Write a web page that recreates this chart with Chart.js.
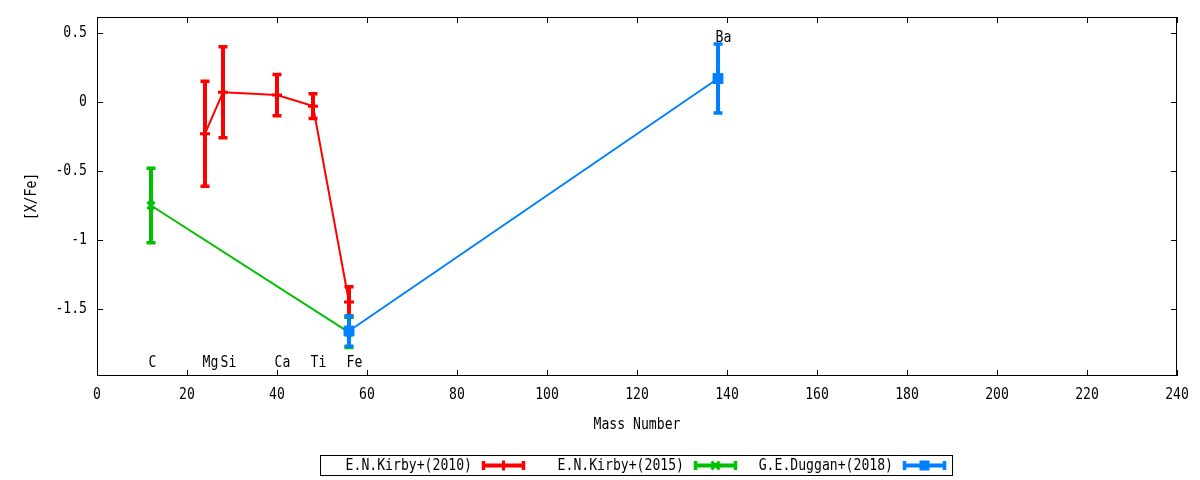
<!DOCTYPE html>
<html>
<head>
<meta charset="utf-8">
<script src="https://cdn.jsdelivr.net/npm/chart.js@4.4.1/dist/chart.umd.min.js"></script>
<style>
  html, body { margin: 0; padding: 0; background: #fff; }
  #wrap { width: 1200px; height: 480px; }
</style>
</head>
<body>
<div id="wrap"><canvas id="chart"></canvas></div>
<script>
// [X/Fe] abundances vs. mass number
const kirby2010Mass = [24, 28, 40, 48, 56];
const kirby2010Value = [-0.23, 0.07, 0.05, -0.03, -1.45];
const kirby2010Error = [0.38, 0.33, 0.15, 0.09, 0.11];

const kirby2015Mass = [12, 56];
const kirby2015Value = [-0.75, -1.67];
const kirby2015Error = [0.27, 0.11];

const duggan2018Mass = [56, 138];
const duggan2018Value = [-1.66, 0.17];
const duggan2018Error = [0.11, 0.25];

const elementNames = ['C', 'Mg', 'Si', 'Ca', 'Ti', 'Fe', 'Ba'];
const elementMass = [12, 24, 28, 40, 48, 56, 138];
const elementLabelY = [-1.89, -1.89, -1.89, -1.89, -1.89, -1.89, 0.467];

const xTicks = [0, 20, 40, 60, 80, 100, 120, 140, 160, 180, 200, 220, 240];
const yTicks = [-1.5, -1, -0.5, 0, 0.5];

const FONT = '16px "DejaVu Sans Mono", monospace';
const SQUEEZE = 0.82;

function text(ctx, str, x, y, align) {
  ctx.save();
  ctx.translate(x, y);
  ctx.scale(SQUEEZE, 1);
  ctx.font = FONT;
  ctx.fillStyle = '#000';
  ctx.textAlign = align;
  ctx.textBaseline = 'middle';
  ctx.fillText(str, 0, 0);
  ctx.restore();
}

function points(mass, values) {
  return mass.map((m, i) => ({ x: m, y: values[i] }));
}

function drawMarker(ctx, style, x, y, color) {
  ctx.save();
  ctx.strokeStyle = color;
  ctx.fillStyle = color;
  ctx.lineWidth = 3;
  if (style === 'cross') {
    ctx.beginPath();
    ctx.moveTo(x - 5, y); ctx.lineTo(x + 5, y);
    ctx.moveTo(x, y - 5); ctx.lineTo(x, y + 5);
    ctx.stroke();
  } else if (style === 'crossRot') {
    ctx.beginPath();
    ctx.moveTo(x - 4, y - 4); ctx.lineTo(x + 4, y + 4);
    ctx.moveTo(x + 4, y - 4); ctx.lineTo(x - 4, y + 4);
    ctx.stroke();
  } else {
    ctx.fillRect(x - 5, y - 5, 10, 10);
  }
  ctx.restore();
}

const gnuplotLook = {
  id: 'gnuplotLook',
  afterDatasetDraw(chart, args) {
    const ds = chart.data.datasets[args.index];
    const y = chart.scales.y;
    const ctx = chart.ctx;
    ctx.save();
    ctx.strokeStyle = ds.borderColor;
    args.meta.data.forEach((pt, i) => {
      const v = ds.data[i].y;
      const e = ds.errors[i];
      const top = y.getPixelForValue(v + e);
      const bot = y.getPixelForValue(v - e);
      ctx.lineWidth = 4;
      ctx.beginPath();
      ctx.moveTo(pt.x, top); ctx.lineTo(pt.x, bot);
      ctx.stroke();
      ctx.lineWidth = 3.5;
      ctx.beginPath();
      ctx.moveTo(pt.x - 4.5, top); ctx.lineTo(pt.x + 4.5, top);
      ctx.moveTo(pt.x - 4.5, bot); ctx.lineTo(pt.x + 4.5, bot);
      ctx.stroke();
    });
    ctx.restore();
  },
  afterDraw(chart) {
    const ctx = chart.ctx;
    const a = chart.chartArea;
    const xs = chart.scales.x;
    const ys = chart.scales.y;

    // frame
    ctx.save();
    ctx.strokeStyle = '#000';
    ctx.lineWidth = 1;
    ctx.strokeRect(a.left + 0.5, a.top + 0.5, a.right - a.left - 1, a.bottom - a.top - 1);

    // inward ticks, mirrored
    ctx.beginPath();
    xs.ticks.forEach(t => {
      const px = Math.round(xs.getPixelForValue(t.value)) + 0.5;
      ctx.moveTo(px, a.bottom); ctx.lineTo(px, a.bottom - 6);
      ctx.moveTo(px, a.top); ctx.lineTo(px, a.top + 6);
    });
    ys.ticks.forEach(t => {
      const py = Math.round(ys.getPixelForValue(t.value)) + 0.5;
      ctx.moveTo(a.left, py); ctx.lineTo(a.left + 6, py);
      ctx.moveTo(a.right, py); ctx.lineTo(a.right - 6, py);
    });
    ctx.stroke();
    ctx.restore();

    xs.ticks.forEach(t => text(ctx, String(t.value), xs.getPixelForValue(t.value), a.bottom + 19, 'center'));
    ys.ticks.forEach(t => text(ctx, String(t.value), a.left - 10, ys.getPixelForValue(t.value), 'right'));

    text(ctx, 'Mass Number', (a.left + a.right) / 2, 425, 'center');
    ctx.save();
    ctx.translate(32, (a.top + a.bottom) / 2);
    ctx.rotate(-Math.PI / 2);
    text(ctx, '[X/Fe]', 0, 0, 'center');
    ctx.restore();

    elementNames.forEach((n, i) => {
      text(ctx, n, xs.getPixelForValue(elementMass[i]) - 2.5, ys.getPixelForValue(elementLabelY[i]), 'left');
    });

    // legend
    ctx.save();
    ctx.strokeStyle = '#000';
    ctx.lineWidth = 1;
    ctx.strokeRect(320.5, 455.5, 632, 20);
    ctx.restore();
    const ly = 465.5;
    const textEnds = [472, 684, 893];
    chart.data.datasets.forEach((ds, i) => {
      text(ctx, ds.label, textEnds[i], ly, 'right');
      const x1 = textEnds[i] + 10;
      const x2 = x1 + 43;
      ctx.save();
      ctx.strokeStyle = ds.borderColor;
      ctx.lineWidth = 4;
      ctx.beginPath();
      ctx.moveTo(x1, ly); ctx.lineTo(x2, ly);
      ctx.stroke();
      ctx.lineWidth = 3.5;
      ctx.beginPath();
      ctx.moveTo(x1 + 1.5, ly - 4.5); ctx.lineTo(x1 + 1.5, ly + 4.5);
      ctx.moveTo(x2 - 1.5, ly - 4.5); ctx.lineTo(x2 - 1.5, ly + 4.5);
      ctx.stroke();
      ctx.restore();
      drawMarker(ctx, ds.pointStyle, (x1 + x2) / 2, ly, ds.borderColor);
    });
  }
};

new Chart(document.getElementById('chart').getContext('2d'), {
  type: 'line',
  data: {
    datasets: [
      {
        label: 'E.N.Kirby+(2010)',
        data: points(kirby2010Mass, kirby2010Value),
        errors: kirby2010Error,
        borderColor: '#ff0000',
        backgroundColor: '#ff0000',
        borderWidth: 2,
        pointStyle: 'cross',
        pointRadius: 5,
        pointBorderWidth: 3,
        order: 3,
      },
      {
        label: 'E.N.Kirby+(2015)',
        data: points(kirby2015Mass, kirby2015Value),
        errors: kirby2015Error,
        borderColor: '#00c000',
        backgroundColor: '#00c000',
        borderWidth: 2,
        pointStyle: 'crossRot',
        pointRadius: 5,
        pointBorderWidth: 3,
        order: 2,
      },
      {
        label: 'G.E.Duggan+(2018)',
        data: points(duggan2018Mass, duggan2018Value),
        errors: duggan2018Error,
        borderColor: '#0080ff',
        backgroundColor: '#0080ff',
        borderWidth: 2,
        pointStyle: 'rect',
        pointRadius: 7,
        pointBorderWidth: 1,
        order: 1,
      },
    ],
  },
  options: {
    responsive: true,
    maintainAspectRatio: false,
    animation: false,
    events: [],
    layout: { padding: { top: 17, right: 23, left: 0, bottom: 0 } },
    plugins: {
      legend: { display: false },
      tooltip: { enabled: false },
    },
    elements: { line: { tension: 0 } },
    scales: {
      x: {
        type: 'linear',
        min: 0,
        max: 240,
        afterBuildTicks: s => { s.ticks = xTicks.map(v => ({ value: v })); },
        afterFit: s => { s.height = 104; },
        grid: { display: false },
        border: { display: false },
        ticks: { display: false },
      },
      y: {
        type: 'linear',
        min: -1.986,
        max: 0.616,
        afterBuildTicks: s => { s.ticks = yTicks.map(v => ({ value: v })); },
        afterFit: s => { s.width = 97; },
        grid: { display: false },
        border: { display: false },
        ticks: { display: false },
      },
    },
  },
  plugins: [gnuplotLook],
});
</script>
</body>
</html>
